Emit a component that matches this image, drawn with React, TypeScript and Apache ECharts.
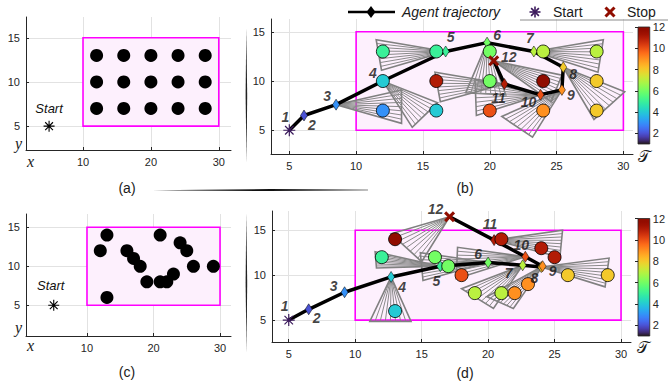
import React, { useEffect, useRef } from "react";
import * as echarts from "echarts";

// ---------- data ----------
const xTicksAC = [10, 20, 30];
const xTicksBD = [5, 10, 15, 20, 25, 30];
const yTicks = [5, 10, 15];
const cbTicks = [2, 4, 6, 8, 10, 12];
const stepMin = 1;
const stepMax = 12;

const region = [10, 5, 30, 15]; // x0, y0, x1, y1
const startPt = [5, 5];

const targetsAB = [
  [12, 13], [16, 13], [20, 13], [24, 13], [28, 13],
  [12, 10], [16, 10], [20, 10], [24, 10], [28, 10],
  [12, 7], [16, 7], [20, 7], [24, 7], [28, 7],
];
const stepsB = [5, 5, 6, 7, 7, 4, 11, 6, 12, 8, 3, 4, 10, 9, 8];

const targetsCD = [
  [12, 12], [13, 14], [13, 6], [16, 12], [17, 11], [18, 10], [19, 8], [21, 14],
  [21, 8], [22, 8], [23, 9], [24, 13], [25, 12], [26, 10], [29, 10],
];
const stepsD = [5, 12, 4, 6, 6, 10, 7, 11, 7, 9, 9, 11, 11, 8, 8];

const trajB = [
  [5, 5], [6.1, 6.5], [8.5, 7.6], [12, 10], [16.7, 13], [19.8, 13.9],
  [23.3, 13], [25.5, 11.4], [25.4, 9.1], [23.8, 8.6], [21.1, 9.7], [20.3, 12.05],
];
const trajD = [
  [5, 5], [6.5, 6.2], [9.2, 8.1], [12.7, 9.8], [16.4, 11], [20, 11.4],
  [22.6, 11.1], [24, 10.9], [24.1, 11], [22.8, 12.05], [20.45, 13.9], [17.1, 16.5],
];

// sensing fans: [step, corner1 x, corner1 y, corner2 x, corner2 y]
const fansB = [
  [3, 13.4, 9.1, 13.4, 5.7],
  [4, 14.2, 5.3, 16.1, 7.8],
  [5, 11.5, 14.2, 11.9, 11.1],
  [6, 18.2, 8.8, 21.2, 8.6],
  [7, 28.5, 14.2, 28.1, 10.9],
  [8, 30.1, 8.9, 27.8, 6.1],
  [9, 20.9, 6.4, 23.2, 4.3],
  [10, 18.9, 10.1, 19.0, 6.5],
  [11, 15.9, 10.9, 16.3, 7.9],
  [12, 25.4, 10.6, 24.6, 7.9],
];
const fansD = [
  [4, 11.1, 4.85, 14.2, 4.85],
  [5, 11.5, 12.6, 11.6, 10.8],
  [6, 14.9, 12.5, 15.1, 9.4],
  [7, 18.0, 8.5, 20.4, 6.3],
  [8, 29.1, 11.9, 28.8, 8.7],
  [9, 19.9, 7.6, 21.9, 6.3],
  [10, 17.7, 13.1, 17.6, 9.6],
  [11, 25.6, 15.0, 25.4, 12.0],
  [12, 12.7, 14.6, 15.0, 11.5],
];

// ---------- styles ----------
const labelOffB = [[-4, -13], [8, 10], [-9, -9], [-10, -8], [5, -14], [10, -8], [-4, -13], [10, 7], [9, 5], [-12, 7], [-6, 14], [15, -4]];
const labelOffD = [[-4, -14], [8, 9], [-11, -6], [11, 10], [-4, 15], [-10, -9], [-14, 8], [-7, 11], [10, 5], [-4, -12], [-4, -16], [-14, -8]];

const SANS = "Liberation Sans, Arial, sans-serif";
const SERIF = "Liberation Serif, Times New Roman, serif";
const AX = "#262626";

function turbo(t: number) {
  const x = Math.max(0, Math.min(1, t));
  const r = 0.13572138 + x * (4.6153926 + x * (-42.66032258 + x * (132.13108234 + x * (-152.94239396 + x * 59.28637943))));
  const g = 0.09140261 + x * (2.19418839 + x * (4.84296658 + x * (-14.18503333 + x * (4.27729857 + x * 2.82956604))));
  const b = 0.1066733 + x * (12.64194608 + x * (-60.58204836 + x * (110.36276771 + x * (-89.90310912 + x * 27.34824973))));
  const c = (v: number) => Math.round(255 * Math.max(0, Math.min(1, v)));
  return `rgb(${c(r)},${c(g)},${c(b)})`;
}
const stepColor = (s: number) => turbo((s - stepMin) / (stepMax - stepMin));
const START_PURPLE = "#3b1a5c";

const ASTERISK =
  "path://M0 45 L100 45 L100 55 L0 55 Z M45 0 L55 0 L55 100 L45 100 Z M11.1 18.18 L18.18 11.1 L88.9 81.82 L81.82 88.9 Z M18.18 88.9 L11.1 81.82 L81.82 11.1 L88.9 18.18 Z";
const CROSS =
  "path://M6.15 23.13 L23.13 6.15 L93.85 76.87 L76.87 93.85 Z M23.13 93.85 L6.15 76.87 L76.87 6.15 L93.85 23.13 Z";

// ---------- builders ----------
function xAx(gi: number, min: number, max: number, ticks: number[]) {
  return {
    type: "value", gridIndex: gi, min, max,
    axisLine: { show: true, onZero: false, lineStyle: { color: AX, width: 1 } },
    axisTick: { show: true, inside: true, length: 3, customValues: ticks, lineStyle: { color: AX } },
    axisLabel: { customValues: ticks, color: AX, fontSize: 11, fontFamily: SANS, margin: 6 },
    splitLine: { show: true, lineStyle: { color: "#e2e2e2", width: 1 } },
  };
}
function yAx(gi: number, min: number, max: number, ticks: number[]) {
  return {
    type: "value", gridIndex: gi, min, max,
    axisLine: { show: true, onZero: false, lineStyle: { color: AX, width: 1 } },
    axisTick: { show: true, inside: true, length: 3, customValues: ticks, lineStyle: { color: AX } },
    axisLabel: { customValues: ticks, color: AX, fontSize: 11, fontFamily: SANS, margin: 6 },
    splitLine: { show: true, lineStyle: { color: "#e2e2e2", width: 1 } },
  };
}

function regionSeries(ai: number) {
  return {
    type: "custom", xAxisIndex: ai, yAxisIndex: ai, z: 1, silent: true,
    data: [region],
    renderItem: (_p: any, api: any) => {
      const p0 = api.coord([api.value(0), api.value(1)]);
      const p1 = api.coord([api.value(2), api.value(3)]);
      return {
        type: "rect",
        shape: { x: p0[0], y: p1[1], width: p1[0] - p0[0], height: p0[1] - p1[1] },
        style: { fill: "#fdf0fd", stroke: "#ff00ff", lineWidth: 1.6 },
      };
    },
  };
}

function fanSeries(ai: number, traj: number[][], fans: number[][]) {
  return {
    type: "custom", xAxisIndex: ai, yAxisIndex: ai, z: 2, silent: true, clip: false,
    data: fans.map((f) => [traj[f[0] - 1][0], traj[f[0] - 1][1], f[1], f[2], f[3], f[4]]),
    renderItem: (_p: any, api: any) => {
      const a = api.coord([api.value(0), api.value(1)]);
      const c1 = api.coord([api.value(2), api.value(3)]);
      const c2 = api.coord([api.value(4), api.value(5)]);
      const children: any[] = [];
      const n = 8;
      for (let i = 1; i < n; i++) {
        const t = i / n;
        children.push({
          type: "line",
          shape: { x1: a[0], y1: a[1], x2: c1[0] + (c2[0] - c1[0]) * t, y2: c1[1] + (c2[1] - c1[1]) * t },
          style: { stroke: "#8a8a8a", lineWidth: 1 },
        });
      }
      children.push({
        type: "polygon",
        shape: { points: [a, c1, c2] },
        style: { fill: "none", stroke: "#808080", lineWidth: 1.6 },
      });
      return { type: "group", children };
    },
  };
}

function blackTargets(ai: number, pts: number[][]) {
  return {
    type: "scatter", xAxisIndex: ai, yAxisIndex: ai, z: 5, symbol: "circle", symbolSize: 13,
    itemStyle: { color: "#000", opacity: 1 }, data: pts,
  };
}

function startWithText(ai: number, off: number[]) {
  return {
    type: "scatter", xAxisIndex: ai, yAxisIndex: ai, z: 6, symbol: ASTERISK, symbolSize: 11,
    itemStyle: { color: "#000", opacity: 1 },
    label: {
      show: true, position: "inside", offset: off, formatter: "Start",
      fontStyle: "italic", fontSize: 13, fontFamily: SANS, color: "#111",
    },
    data: [startPt],
  };
}

function trajSeries(ai: number, traj: number[][], targets: number[][], steps: number[], offs: number[][]) {
  return [
    {
      type: "line", xAxisIndex: ai, yAxisIndex: ai, z: 3, data: traj,
      symbol: "none", showSymbol: false, lineStyle: { color: "#000", width: 3.5 },
    },
    {
      type: "scatter", xAxisIndex: ai, yAxisIndex: ai, z: 4, symbol: "diamond", symbolSize: [7, 11],
      data: traj.slice(1, traj.length - 1).map((p, i) => ({ value: p, itemStyle: { color: stepColor(i + 2) } })),
      itemStyle: { borderColor: "#000", borderWidth: 0.5, opacity: 1 },
    },
    {
      type: "scatter", xAxisIndex: ai, yAxisIndex: ai, z: 5, symbol: "circle", symbolSize: 13,
      data: targets.map((p, i) => ({ value: p, itemStyle: { color: stepColor(steps[i]) } })),
      itemStyle: { borderColor: "#000", borderWidth: 0.8, opacity: 1 },
    },
    {
      type: "scatter", xAxisIndex: ai, yAxisIndex: ai, z: 6, symbol: ASTERISK, symbolSize: 12,
      itemStyle: { color: START_PURPLE, opacity: 1 }, data: [traj[0]],
    },
    {
      type: "scatter", xAxisIndex: ai, yAxisIndex: ai, z: 6, symbol: CROSS, symbolSize: 11,
      itemStyle: { color: stepColor(12), opacity: 1 }, data: [traj[traj.length - 1]],
    },
    {
      type: "scatter", xAxisIndex: ai, yAxisIndex: ai, z: 7, symbol: "circle", symbolSize: 1,
      itemStyle: { color: "rgba(0,0,0,0)" }, silent: true,
      data: traj.map((p, i) => ({ value: p, label: { offset: offs[i] } })),
      label: {
        show: true, position: "inside", formatter: (pr: any) => String(pr.dataIndex + 1),
        fontWeight: "bold", fontStyle: "italic", fontSize: 14, fontFamily: SANS, color: "#111",
      },
    },
  ];
}

const gradStops = Array.from({ length: 33 }, (_, i) => ({ offset: i / 32, color: turbo(i / 32) }));

function colorbarSeries(ai: number) {
  return {
    type: "custom", xAxisIndex: ai, yAxisIndex: ai, z: 2, silent: true,
    data: [[0, stepMin, 1, stepMax]],
    renderItem: (_p: any, api: any) => {
      const p0 = api.coord([api.value(0), api.value(1)]);
      const p1 = api.coord([api.value(2), api.value(3)]);
      return {
        type: "rect",
        shape: { x: p0[0], y: p1[1], width: p1[0] - p0[0], height: p0[1] - p1[1] },
        style: {
          fill: new echarts.graphic.LinearGradient(0, 1, 0, 0, gradStops),
          stroke: AX, lineWidth: 0.8,
        },
      };
    },
  };
}

function cbX(gi: number) {
  return { type: "value", gridIndex: gi, min: 0, max: 1, show: false };
}
function cbY(gi: number) {
  return {
    type: "value", gridIndex: gi, min: stepMin, max: stepMax, position: "right",
    axisLine: { show: false },
    axisTick: { show: true, inside: true, length: 3, customValues: cbTicks, lineStyle: { color: AX } },
    axisLabel: { customValues: cbTicks, color: AX, fontSize: 11, fontFamily: SANS, margin: 3 },
    splitLine: { show: false },
  };
}

function txt(x: number, y: number, text: string, extra: any = {}) {
  return {
    type: "text", x, y, z: 100,
    style: {
      text, fill: "#1a1a1a", fontSize: 14, fontFamily: SANS, align: "center", verticalAlign: "middle",
      ...extra,
    },
  };
}

function starLines(cx: number, cy: number, r: number, color: string) {
  const out: any[] = [];
  for (let k = 0; k < 4; k++) {
    const ang = (k * Math.PI) / 4;
    out.push({
      type: "line", z: 100,
      shape: { x1: cx - r * Math.cos(ang), y1: cy - r * Math.sin(ang), x2: cx + r * Math.cos(ang), y2: cy + r * Math.sin(ang) },
      style: { stroke: color, lineWidth: 1.6 },
    });
  }
  return out;
}

export default function App() {
  const ref = useRef<HTMLDivElement>(null);
  useEffect(() => {
    if (!ref.current) return;
    const chart = echarts.init(ref.current, undefined, { renderer: "svg" });
    const option: any = {
      animation: false,
      backgroundColor: "#ffffff",
      grid: [
        { left: 26, top: 17, width: 205, height: 133 },
        { left: 271, top: 19, width: 362, height: 135 },
        { left: 26, top: 214, width: 205, height: 122 },
        { left: 272, top: 211, width: 359, height: 131 },
        { left: 638, top: 27, width: 16, height: 117 },
        { left: 638, top: 218.5, width: 16, height: 117.5 },
      ],
      xAxis: [
        xAx(0, 1.6, 31.8, xTicksAC),
        xAx(1, 3.63, 30.72, xTicksBD),
        xAx(2, 0.83, 31.65, xTicksAC),
        xAx(3, 3.74, 30.75, xTicksBD),
        cbX(4),
        cbX(5),
      ],
      yAxis: [
        yAx(0, 2.3, 17.35, yTicks),
        yAx(1, 2.59, 16.3, yTicks),
        yAx(2, 1.06, 16.7, yTicks),
        yAx(3, 2.56, 17.14, yTicks),
        cbY(4),
        cbY(5),
      ],
      series: [
        regionSeries(0),
        blackTargets(0, targetsAB),
        startWithText(0, [0, -18]),
        regionSeries(1),
        fanSeries(1, trajB, fansB),
        ...trajSeries(1, trajB, targetsAB, stepsB, labelOffB),
        regionSeries(2),
        blackTargets(2, targetsCD),
        startWithText(2, [-3, -20]),
        regionSeries(3),
        fanSeries(3, trajD, fansD),
        ...trajSeries(3, trajD, targetsCD, stepsD, labelOffD),
        colorbarSeries(4),
        colorbarSeries(5),
      ],
      graphic: [
        // legend
        { type: "line", z: 100, shape: { x1: 348, y1: 12, x2: 395, y2: 12 }, style: { stroke: "#000", lineWidth: 2.5 } },
        { type: "polygon", z: 101, shape: { points: [[371, 6], [375.5, 12], [371, 18], [366.5, 12]] }, style: { fill: "#000" } },
        txt(402, 12, "Agent trajectory", { align: "left", fontStyle: "italic", fontSize: 14 }),
        ...starLines(535, 12, 5.5, START_PURPLE),
        txt(553, 12, "Start", { align: "left", fontSize: 14 }),
        { type: "line", z: 100, shape: { x1: 605.5, y1: 7.5, x2: 614.5, y2: 16.5 }, style: { stroke: stepColor(12), lineWidth: 3 } },
        { type: "line", z: 100, shape: { x1: 605.5, y1: 16.5, x2: 614.5, y2: 7.5 }, style: { stroke: stepColor(12), lineWidth: 3 } },
        txt(627, 12, "Stop", { align: "left", fontSize: 14 }),
        { type: "line", z: 100, shape: { x1: 520, y1: 20, x2: 668, y2: 20 }, style: { stroke: "#8c8c8c", lineWidth: 1 } },
        // panel captions
        txt(127, 188, "(a)"),
        txt(465, 187.5, "(b)"),
        txt(127, 371.5, "(c)"),
        txt(465, 372.5, "(d)"),
        // axis names
        txt(30.5, 161, "x", { fontFamily: SERIF, fontStyle: "italic", fontSize: 16 }),
        txt(18.5, 143, "y", { fontFamily: SERIF, fontStyle: "italic", fontSize: 16 }),
        txt(30.5, 345, "x", { fontFamily: SERIF, fontStyle: "italic", fontSize: 16 }),
        txt(18.5, 327, "y", { fontFamily: SERIF, fontStyle: "italic", fontSize: 16 }),
        // colorbar titles
        txt(644, 156, "\u{1D4AF}", { fontFamily: SERIF, fontSize: 16 }),
        txt(643, 347, "\u{1D4AF}", { fontFamily: SERIF, fontSize: 16 }),
        // decorative separators
        { type: "polygon", z: 90, shape: { points: [[152, 190.2], [270, 189], [368, 189.8], [368, 190.3], [270, 191.1]] }, style: { fill: "#111" } },
        { type: "polygon", z: 90, shape: { points: [[246.3, 28], [247.2, 95], [246.5, 163], [245.6, 95]] }, style: { fill: "#222" } },
        { type: "polygon", z: 90, shape: { points: [[246.3, 213], [247.2, 283], [246.5, 353], [245.6, 283]] }, style: { fill: "#222" } },
      ],
    };
    chart.setOption(option);
    return () => chart.dispose();
  }, []);
  return (
    <div
      ref={ref}
      style={{ position: "absolute", left: 0, top: 0, width: 668, height: 388, background: "#fff" }}
    />
  );
}
